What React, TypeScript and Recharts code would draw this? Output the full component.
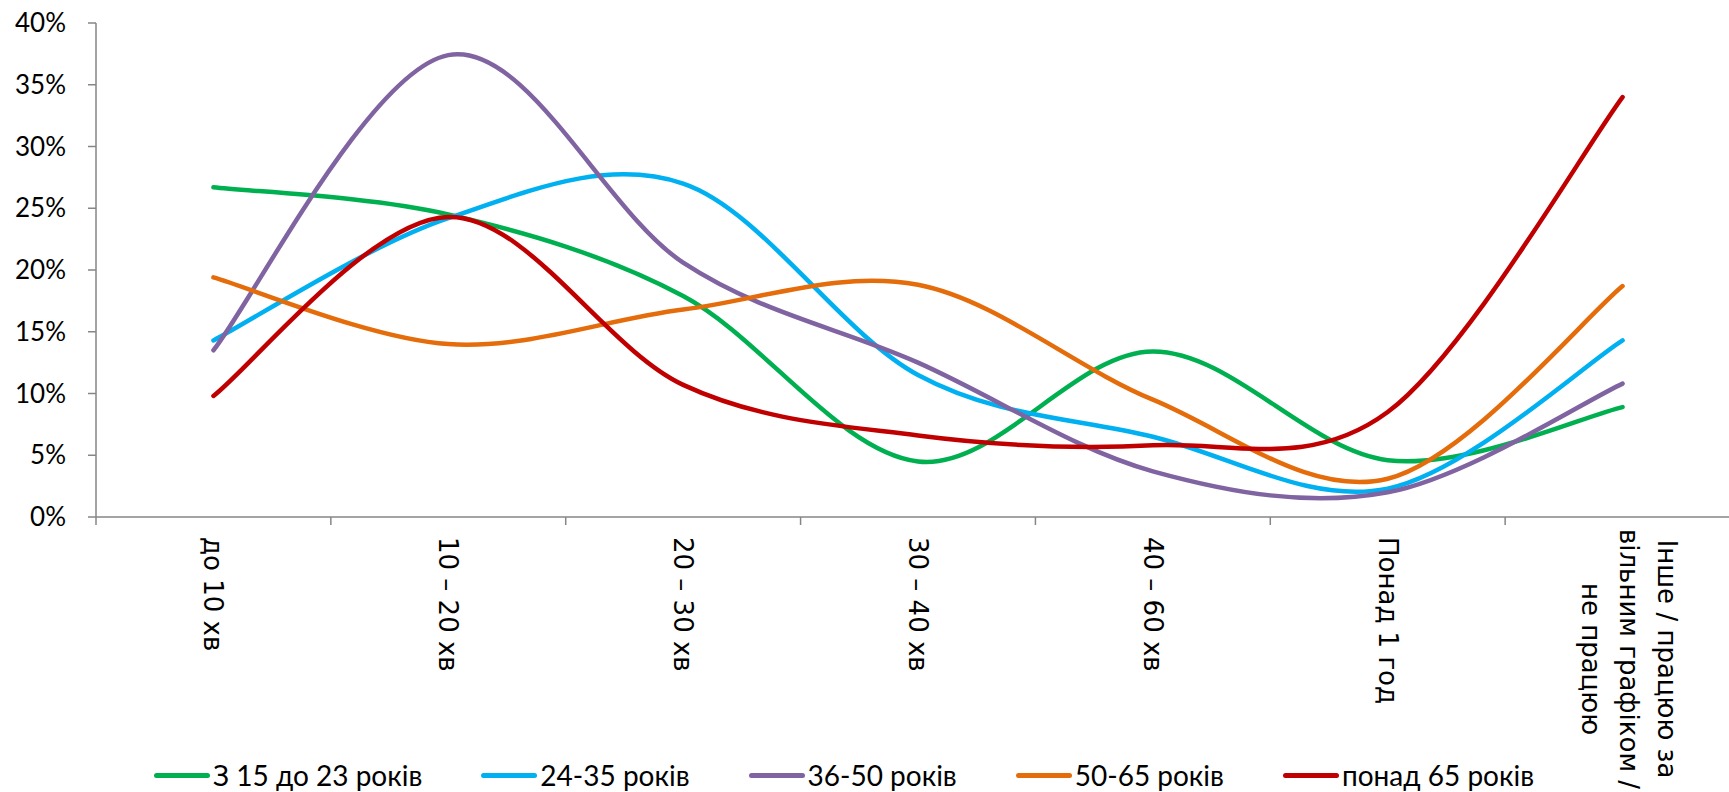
import React from 'react';
import { LineChart, Line, XAxis, YAxis, Legend } from 'recharts';

// categories on the x axis (commute time)
const categories = [
  'до 10 хв',
  '10 – 20 хв',
  '20 – 30 хв',
  '30 – 40 хв',
  '40 – 60 хв',
  'Понад 1 год',
  'Інше / працюю за вільним графіком / не працюю',
];
// the last category is wrapped into three lines in the original
const lastLabelLines = ['Інше / працюю за', 'вільним графіком /', 'не працюю'];

const seriesNames = ['З 15 до 23 років', '24-35 років', '36-50 років', '50-65 років', 'понад 65 років'];
const seriesColors = ['#00B050', '#00B0F0', '#8064A2', '#E46C0A', '#C00000'];

const age15to23 = [0.267, 0.245, 0.179, 0.045, 0.134, 0.046, 0.089];
const age24to35 = [0.143, 0.242, 0.27, 0.115, 0.065, 0.023, 0.143];
const age36to50 = [0.135, 0.374, 0.206, 0.125, 0.037, 0.02, 0.108];
const age50to65 = [0.194, 0.14, 0.168, 0.188, 0.095, 0.031, 0.187];
const age65plus = [0.098, 0.243, 0.107, 0.066, 0.058, 0.085, 0.34];

const yTicks = [0, 0.05, 0.1, 0.15, 0.2, 0.25, 0.3, 0.35, 0.4];

const seriesValues = [age15to23, age24to35, age36to50, age50to65, age65plus];
const keys = ['s0', 's1', 's2', 's3', 's4'];

const data = categories.map((name, i) => {
  const row: any = { x: i + 0.5, name };
  seriesValues.forEach((vals, k) => {
    row[keys[k]] = vals[i];
  });
  return row;
});

// tick marks at category boundaries, labels at category centres
const xTicks: number[] = [];
for (let i = 0; i <= categories.length * 2; i++) xTicks.push(i / 2);

const AXIS = '#868686';

// Excel-like smoothed line (Catmull-Rom style bezier)
function excelCurve(context: any) {
  let pts: number[][] = [];
  return {
    areaStart() {},
    areaEnd() {},
    lineStart() {
      pts = [];
    },
    point(x: number, y: number) {
      pts.push([+x, +y]);
    },
    lineEnd() {
      const n = pts.length;
      if (!n) return;
      context.moveTo(pts[0][0], pts[0][1]);
      for (let i = 0; i < n - 1; i++) {
        const p0 = pts[i - 1] || pts[i];
        const p1 = pts[i];
        const p2 = pts[i + 1];
        const p3 = pts[i + 2] || p2;
        context.bezierCurveTo(
          p1[0] + (p2[0] - p0[0]) / 6,
          p1[1] + (p2[1] - p0[1]) / 6,
          p2[0] - (p3[0] - p1[0]) / 6,
          p2[1] - (p3[1] - p1[1]) / 6,
          p2[0],
          p2[1]
        );
      }
    },
  };
}

function CategoryTick(props: any) {
  const { x, y, payload } = props;
  const v = payload.value;
  if (Number.isInteger(v)) {
    return <line x1={x} x2={x} y1={y} y2={y + 8} stroke={AXIS} strokeWidth={1.5} />;
  }
  const idx = Math.floor(v);
  const font = { fontFamily: 'DejaVu Sans', fontSize: 26, fill: '#000' };
  if (idx === categories.length - 1) {
    const cy = y + 142;
    return (
      <g>
        {lastLabelLines.map((line, i) => {
          const lx = x + 6 + 38 - i * 38;
          return (
            <text
              key={i}
              x={lx}
              y={cy}
              transform={`rotate(90, ${lx}, ${cy})`}
              textAnchor="middle"
              dominantBaseline="central"
              {...font}
            >
              {line}
            </text>
          );
        })}
      </g>
    );
  }
  const ty = y + 20;
  return (
    <text
      x={x}
      y={ty}
      transform={`rotate(90, ${x}, ${ty})`}
      textAnchor="start"
      dominantBaseline="central"
      {...font}
    >
      {categories[idx]}
    </text>
  );
}

function LegendContent(props: any) {
  // keep the series order (recharts sorts legend items by name otherwise)
  const items = [...(props.payload || [])].sort(
    (a: any, b: any) => seriesNames.indexOf(a.value) - seriesNames.indexOf(b.value)
  );
  return (
    <div
      style={{
        display: 'flex',
        alignItems: 'center',
        height: 34,
        paddingLeft: 154,
        gap: 59,
        fontFamily: 'Lato',
        fontSize: 28,
        color: '#000',
        whiteSpace: 'nowrap',
      }}
    >
      {items.map((entry: any) => (
        <div key={entry.value} style={{ display: 'flex', alignItems: 'center' }}>
          <span
            style={{
              display: 'inline-block',
              width: 56,
              height: 5,
              borderRadius: 3,
              background: entry.color,
              marginRight: 3,
            }}
          />
          <span>{entry.value}</span>
        </div>
      ))}
    </div>
  );
}

export default function App() {
  return (
    <div
      style={{
        position: 'absolute',
        left: 0,
        top: 0,
        width: 1729,
        height: 792,
        overflow: 'hidden',
        background: '#fff',
      }}
    >
      <LineChart width={1750} height={792} data={data} margin={{ top: 23, right: 10, bottom: 0, left: 0 }}>
        <XAxis
          type="number"
          dataKey="x"
          domain={[0, categories.length]}
          ticks={xTicks}
          interval={0}
          tickLine={false}
          tickSize={0}
          tickMargin={0}
          height={241}
          axisLine={{ stroke: AXIS, strokeWidth: 1.5 }}
          tick={<CategoryTick />}
        />
        <YAxis
          type="number"
          domain={[0, 0.4]}
          ticks={yTicks}
          width={96}
          tickSize={8}
          tickMargin={22}
          axisLine={{ stroke: AXIS, strokeWidth: 1.5 }}
          tickLine={{ stroke: AXIS, strokeWidth: 1.5 }}
          tick={{ fill: '#000', fontFamily: 'Lato', fontSize: 26 }}
          tickFormatter={(v: number) => `${Math.round(v * 100)}%`}
        />
        {keys.map((k, i) => (
          <Line
            key={k}
            dataKey={k}
            name={seriesNames[i]}
            stroke={seriesColors[i]}
            strokeWidth={4.5}
            strokeLinecap="round"
            type={excelCurve as any}
            dot={false}
            activeDot={false}
            isAnimationActive={false}
          />
        ))}
        <Legend verticalAlign="bottom" height={34} content={<LegendContent />} />
      </LineChart>
    </div>
  );
}
